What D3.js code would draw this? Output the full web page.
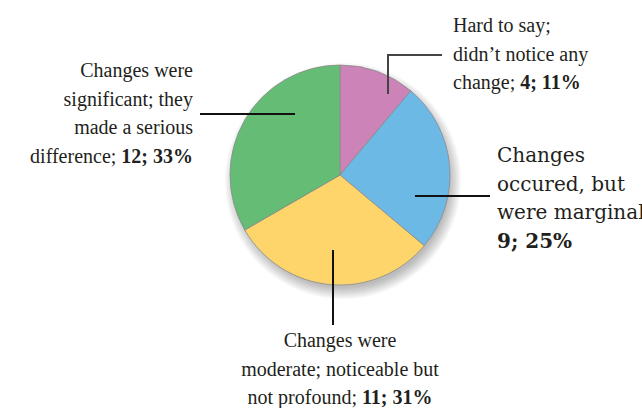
<!DOCTYPE html>
<html>
<head>
<meta charset="utf-8">
<script src="https://cdn.jsdelivr.net/npm/d3@7"></script>
<style>
  .lbl3 { font-family: "Times New Roman", Times, serif; }
</style>
</head>
<body style="margin:0">
<svg id="chart" width="642" height="408" style="font-family: 'Liberation Serif', serif"></svg>
<script>
// data
var counts = [4, 9, 11, 12];
var percents = [11, 25, 31, 33];
// how each label wraps (last line gets the bold figures)
var labelLines = [
  ["Hard to say;", "didn\u2019t notice any", "change;"],
  ["Changes", "occured, but", "were marginal;", ""],
  ["Changes were", "moderate; noticeable but", "not profound;"],
  ["Changes were", "significant; they", "made a serious", "difference;"]
];
var colors = ["#cc83b7", "#6cb9e6", "#fed56b", "#65bc74"];

var width = 642, height = 408;
var cx = 340, cy = 175, radius = 110;

var svg = d3.select("#chart");

var pie = d3.pie().sort(null).value(function(d) { return d; });
var arc = d3.arc().innerRadius(0).outerRadius(radius);
var arcs = pie(counts);

var g = svg.append("g").attr("transform", "translate(" + cx + "," + cy + ")");

// soft shadow, stacked faint circles
d3.range(8).forEach(function(k) {
  g.append("circle")
    .attr("cx", 3).attr("cy", 6)
    .attr("r", radius + 8 - k * 1.6)
    .attr("fill", "#000")
    .attr("fill-opacity", 0.035);
});

g.selectAll("path.slice")
    .data(arcs)
    .enter().append("path")
    .attr("class", "slice")
    .attr("d", arc)
    .attr("fill", function(d, i) { return colors[i]; })
    .attr("stroke", "#8a8a8a")
    .attr("stroke-width", 0.8);

// label layout: leader points (relative to pie centre) and text anchor
var layout = [
  {pts: [[48, -81], [48, -120], [102, -120]], tx: 113, ty: -143, anchor: "start", stroke: "#444"},
  {pts: [[75, 21], [150, 21]], tx: 157, ty: -13, anchor: "start", stroke: "#111"},
  {pts: [[-7, 75], [-7, 150]], tx: 0, ty: 172, anchor: "middle", stroke: "#111"},
  {pts: [[-45, -61], [-140, -61]], tx: -147, ty: -98, anchor: "end", stroke: "#111"}
];
var fams = ["'Liberation Serif'", "'DejaVu Serif'", "Times New Roman", null];
var lineH = 28.7;

layout.forEach(function(l, i) {
  g.append("path")
    .attr("d", d3.line()(l.pts))
    .attr("fill", "none")
    .attr("stroke", l.stroke)
    .attr("stroke-width", 2);

  var lines = labelLines[i];
  lines.forEach(function(s, j) {
    var t = svg.append("text")
      .attr("x", cx + l.tx)
      .attr("y", cy + l.ty + j * lineH)
      .attr("fill", "#231f20")
      .attr("text-anchor", l.anchor)
      .style("font-size", "20px");
    if (fams[i]) t.style("font-family", fams[i]); else t.attr("class", "lbl3");
    if (j == lines.length - 1) {
      if (s != "") t.append("tspan").text(s + " ");
      t.append("tspan").attr("font-weight", "bold")
        .text(counts[i] + "; " + percents[i] + "%");
    } else {
      t.text(s);
    }
  });
});
</script>
</body>
</html>
